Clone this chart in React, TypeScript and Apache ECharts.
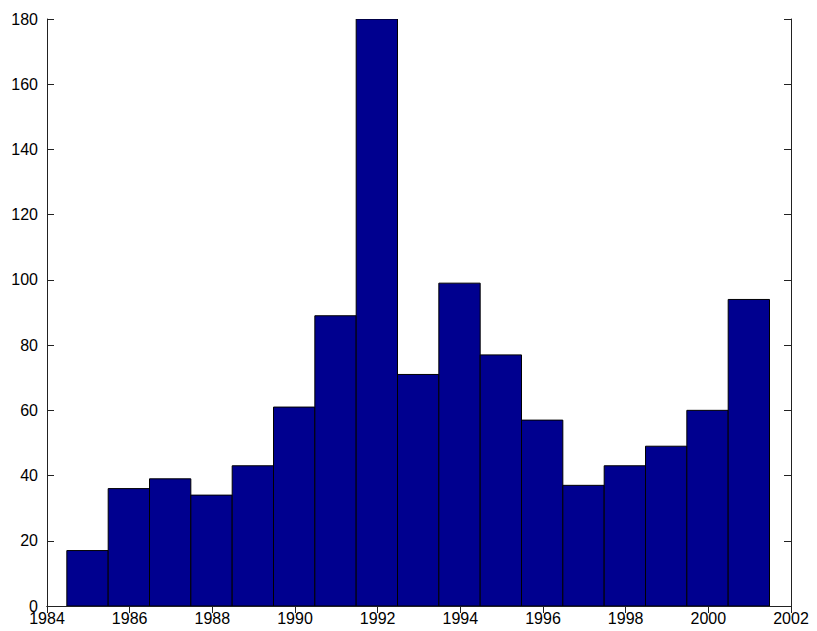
import React, { useEffect, useRef } from "react";
import * as echarts from "echarts";

// Histogram bin centres (years) and counts
const binCenters = [1985, 1986, 1987, 1988, 1989, 1990, 1991, 1992, 1993, 1994, 1995, 1996, 1997, 1998, 1999, 2000, 2001];
const counts = [17, 36, 39, 34, 43, 61, 89, 180, 71, 99, 77, 57, 37, 43, 49, 60, 94];
const binWidth = 1;
const binOffset = -0.02;
const xTicks = [1984, 1986, 1988, 1990, 1992, 1994, 1996, 1998, 2000, 2002];
const yTicks = [0, 20, 40, 60, 80, 100, 120, 140, 160, 180];

const FONT = "'Liberation Sans', Arial, sans-serif";

export default function App() {
  const ref = useRef<HTMLDivElement>(null);
  useEffect(() => {
    if (!ref.current) return;
    const chart = echarts.init(ref.current, null, { renderer: "svg" });
    const data = binCenters.map((c, i) => [
      c + binOffset - binWidth / 2,
      c + binOffset + binWidth / 2,
      counts[i],
    ]);
    const axisLine = { show: true, lineStyle: { color: "#222", width: 1 } };
    const axisTick = { show: true, inside: true, length: 7, lineStyle: { color: "#222", width: 1 } };
    const label = { color: "#000", fontFamily: FONT, fontSize: 16, formatter: (v: number) => String(v) };
    chart.setOption({
      animation: false,
      backgroundColor: "#fff",
      grid: { left: 47, right: 26, top: 19, bottom: 25, containLabel: false },
      xAxis: [
        {
          type: "value",
          min: xTicks[0],
          max: xTicks[xTicks.length - 1],
          interval: 2,
          position: "bottom",
          axisLine,
          axisTick,
          splitLine: { show: false },
          axisLabel: { ...label, margin: 4 },
        },
        {
          type: "value",
          min: xTicks[0],
          max: xTicks[xTicks.length - 1],
          interval: 2,
          position: "top",
          axisLine,
          axisTick,
          splitLine: { show: false },
          axisLabel: { show: false },
        },
      ],
      yAxis: [
        {
          type: "value",
          min: yTicks[0],
          max: yTicks[yTicks.length - 1],
          interval: 20,
          position: "left",
          axisLine,
          axisTick,
          splitLine: { show: false },
          axisLabel: { ...label, margin: 9 },
        },
        {
          type: "value",
          min: yTicks[0],
          max: yTicks[yTicks.length - 1],
          interval: 20,
          position: "right",
          axisLine,
          axisTick,
          splitLine: { show: false },
          axisLabel: { show: false },
        },
      ],
      series: [
        {
          type: "custom",
          xAxisIndex: 0,
          yAxisIndex: 0,
          clip: true,
          data,
          encode: { x: [0, 1], y: 2 },
          renderItem: (params: any, api: any) => {
            const p0 = api.coord([api.value(0), 0]);
            const p1 = api.coord([api.value(1), api.value(2)]);
            return {
              type: "rect",
              shape: {
                x: p0[0],
                y: p1[1],
                width: p1[0] - p0[0],
                height: p0[1] - p1[1],
              },
              style: { fill: "#00008F", stroke: "#000", lineWidth: 1 },
            };
          },
        },
      ],
    });
    return () => chart.dispose();
  }, []);
  return (
    <div
      ref={ref}
      style={{ position: "fixed", left: 0, top: 0, width: 817, height: 631, background: "#fff" }}
    />
  );
}
